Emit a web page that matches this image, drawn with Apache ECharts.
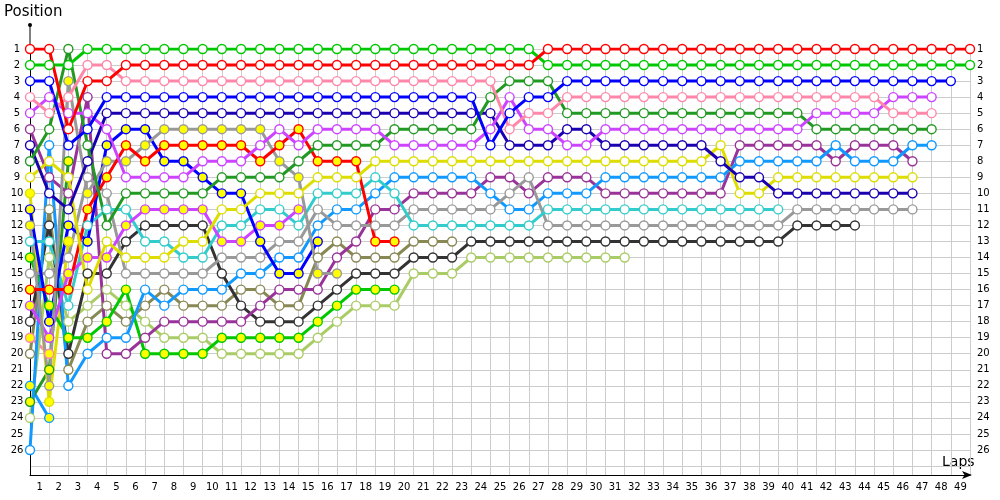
<!DOCTYPE html>
<html><head><meta charset="utf-8">
<script src="https://cdn.jsdelivr.net/npm/echarts@6/dist/echarts.min.js"></script>
<style>html,body{margin:0;padding:0;background:#fff}#c{width:1000px;height:500px}</style>
</head><body><div id="c"></div>
<script>
// Lap labels (x axis) and position labels (y axis)
const lapLabels = ['1','2','3','4','5','6','7','8','9','10','11','12','13','14','15','16','17','18','19','20','21','22','23','24','25','26','27','28','29','30','31','32','33','34','35','36','37','38','39','40','41','42','43','44','45','46','47','48','49'];
const positionLabels = [1,2,3,4,5,6,7,8,9,10,11,12,13,14,15,16,17,18,19,20,21,22,23,24,25,26];

// Position of each car per lap (index = lap, starting with lap 0 = grid)
const red      = [1,1,6,3,3, 2,2,2,2,2,2,2,2,2,2,2,2,2,2,2,2,2,2,2,2,2,2, 1,1,1,1,1,1,1,1,1,1,1,1,1,1,1,1,1,1,1,1,1,1,1];
const green    = [2,2,2,1,1, 1,1,1,1,1,1,1,1,1,1,1,1,1,1,1,1,1,1,1,1,1,1, 2,2,2,2,2,2,2,2,2,2,2,2,2,2,2,2,2,2,2,2,2,2,2];
const blue     = [3,3,7,6,4, 4,4,4,4,4,4,4,4,4,4,4,4,4,4,4,4,4,4,4, 7,5,4,4, 3,3,3,3,3,3,3,3,3,3,3,3,3,3,3,3,3,3,3,3,3];
const pink     = [4,5,4,2,2, 3,3,3,3,3,3,3,3,3,3,3,3,3,3,3,3,3,3,3,3, 6,5,5, 4,4,4,4,4,4,4,4,4,4,4,4,4,4,4,4,4, 5,5,5];
const violet   = [5,4,5,5,6, 9,9,9,9, 8,8,8, 7,6,7, 6,6,6,6, 7,7,7,7,7, 6,4,6,6, 7,7, 6,6,6,6,6,6,6,6,6,6,6, 5,5,5,5, 4,4,4];
const purple   = [6,9,10,4,20, 20,19,18,18,18,18,18,17,16,16,16,14,13,11,11,10,10,10,10,9,9,10,9,9,9, 10,10,10,10,10,10,10, 7,7,7,7,7, 8,7,7,7,8];
const navy     = [7,10,11,8,5, 5,5,5,5,5,5,5,5,5,5,5,5,5,5,5,5,5,5,5,5, 7,7,7, 6,6, 7,7,7,7,7,7, 8,9,9, 10,10,10,10,10,10,10,10];
const darkGreen= [8,6,1,7,12, 10,10,10,10,10, 9,9,9,9, 8, 7,7,7,7, 6,6,6,6,6, 4, 3,3,3, 5,5,5,5,5,5,5,5,5,5,5,5,5, 6,6,6,6,6,6,6];
const yellow   = [9,8,9,16,13, 14,14,14, 13,13, 11,11, 10,10,10, 9,9,9, 8,8,8,8,8,8,8,8,8,8,8,8,8,8,8,8,8,8, 7, 10,10, 9,9,9,9,9,9,9,9];
const gray     = [15,15,14,9,10, 15,15,15,15,15, 14,14,14, 13,13, 11, 12,12,12,12, 11,11,11,11,11, 10, 9, 12,12,12,12,12,12,12,12,12,12,12,12,12, 11,11,11,11,11,11,11];
const cyan     = [13,13,17,12,11, 11,13,13,14,14, 12,12,11,11,12, 10,10,10,9,10, 12,12,12,12,12,12,12, 11,11,11,11,11,11,11,11,11,11,11,11,11];
const darkGray = [18,12,20,15,15, 13,12,12,12,12, 15,17,18,18,18, 17,16,15,15,15, 14,14,14, 13,13,13,13,13,13,13,13,13,13,13,13,13,13,13,13,13, 12,12,12,12];
const olive    = [20,11,21,18,17, 18,17,16,17,17, 17,16,16,17,17, 14,13,14,14,14, 13,13,13];
const lightGrn = [24,14,18,17,16, 17,18,19,19,19, 20,20,20,20,20, 19,18,17,17,17, 15,15,15, 14,14,14,14,14,14,14,14,14];
const lightBlue= [26,7,22,20,19, 19,16,17,16,16, 16,15,15,14,14, 12,11,11,10,9, 9,9,9,9, 10,11,11,10,10,10, 9,9,9,9,9,9,9, 8,8,8,8,8, 7,8,8,8,7,7];
const redB     = [16,16,16,11,9, 7,8,7,7,7, 7,7,8,7,6, 8,8,8,13,13];
const greenB   = [14,17,19,19,18, 16,20,20,20,20, 19,19,19,19,19, 18,17,16,16,16];
const violetB  = [17,19,15,14,14, 12,11,11,11,11, 13,13,12,12,11];
const blueB    = [11,18,12,13,7, 6,6,8,8,9, 10,10,13,15,15,13];
const grayB    = [12,22,3,10,8, 8,7,6,6,6,6,6,6, 8,9,15,15];
const pinkB    = [19,20];
const darkGrnB = [23,21,8];
const lightBlB = [22,24];
const yellowB  = [10,23,13];

const W = '#ffffff', Yf = '#ffff00';
const cars = [
  [lightBlB,'#1199ff',Yf],[pinkB,'#ff88aa',Yf],[darkGrnB,'#229922',Yf],[yellowB,'#dddd00',Yf],
  [lightGrn,'#aacc66',W],[olive,'#888855',W],[darkGray,'#333333',W],[greenB,'#00c800',Yf],
  [purple,'#993399',W],[lightBlue,'#1199ff',W],[gray,'#999999',W],[cyan,'#33cccc',W],
  [violetB,'#cc44ff',Yf],[blueB,'#0000ff',Yf],[grayB,'#999999',Yf],[redB,'#ff0000',Yf],
  [yellow,'#dddd00',W],[navy,'#1a00b0',W],[darkGreen,'#229922',W],[violet,'#cc44ff',W],
  [pink,'#ff88aa',W],[blue,'#0000ff',W],[green,'#00c800',W],[red,'#ff0000',W]
];

const series = cars.map(([arr,col,fill]) => ({
  type:'line',
  data: arr.map((p,i)=>[i,p]),
  xAxisIndex:0, yAxisIndex:0,
  symbol:'circle', symbolSize:9, showAllSymbol:true,
  lineStyle:{color:col,width:3},
  itemStyle:{color:fill,borderColor:col,borderWidth:1.4},
  emphasis:{disabled:true},
  animation:false
}));

const lblFont = {fontFamily:'DejaVu Sans',fontSize:10,color:'#000'};
const yFmt = v => (Number.isInteger(v) && positionLabels.indexOf(v) >= 0) ? String(v) : '';

const chart = echarts.init(document.getElementById('c'),null,{renderer:'canvas'});
chart.setOption({
  animation:false,
  backgroundColor:'#fff',
  grid:{left:30,right:30,top:49,bottom:25,containLabel:false},
  xAxis:[
    {type:'value',min:0,max:49,interval:1,position:'bottom',
     axisLine:{show:true,lineStyle:{color:'#000',width:1},symbol:['none','arrow'],symbolSize:[6,10],symbolOffset:[0,2]},
     axisTick:{show:false},axisLabel:{show:false},
     splitLine:{show:true,lineStyle:{color:'#cccccc',width:1}}},
    {type:'category',data:lapLabels,boundaryGap:true,position:'bottom',gridIndex:0,
     axisLine:{show:false},axisTick:{show:false},splitLine:{show:false},
     axisLabel:Object.assign({margin:7,interval:0},lblFont)}
  ],
  yAxis:[
    {type:'value',min:1,max:27.56,interval:1,inverse:true,position:'left',
     axisLine:{show:true,lineStyle:{color:'#000',width:1}},
     axisTick:{show:false},
     axisLabel:Object.assign({margin:13,align:'center',formatter:yFmt,showMaxLabel:false},lblFont),
     splitLine:{show:true,lineStyle:{color:'#cccccc',width:1}}},
    {type:'value',min:1,max:27.56,interval:1,inverse:true,position:'right',
     axisLine:{show:false},axisTick:{show:false},splitLine:{show:false},
     axisLabel:Object.assign({margin:7,align:'left',formatter:yFmt,showMaxLabel:false},lblFont)}
  ],
  graphic:[
    {type:'line',shape:{x1:30,y1:25,x2:30,y2:49},style:{stroke:'#000',lineWidth:1}},
    {type:'circle',shape:{cx:30,cy:25,r:2},style:{fill:'#000'}},
    {type:'text',left:4,top:5,style:{text:'Position',fontFamily:'DejaVu Sans',fontSize:15,fill:'#000'}},
    {type:'text',left:942,top:455,style:{text:'Laps',fontFamily:'DejaVu Sans',fontSize:14,fill:'#000'}}
  ],
  series: series
});
</script></body></html>
